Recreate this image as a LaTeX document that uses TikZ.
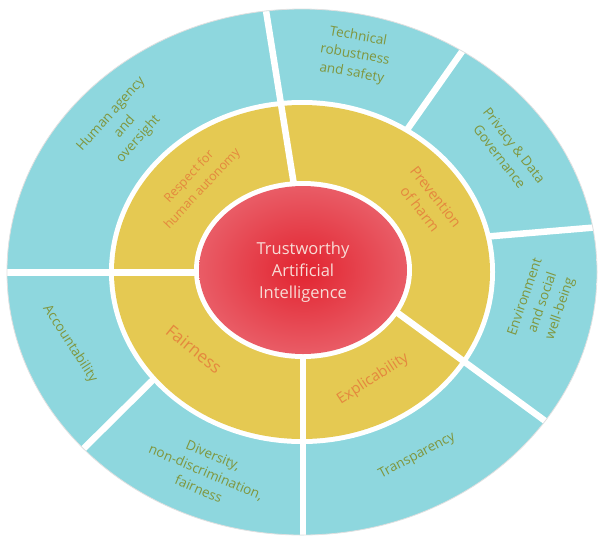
\documentclass[tikz,border=0pt]{standalone}
\usepackage{fontspec}
\setmainfont{Open Sans}
\definecolor{cyanring}{RGB}{142,215,222}
\definecolor{yellowring}{RGB}{229,201,82}
\definecolor{olivetext}{RGB}{128,150,62}
\definecolor{orangetext}{RGB}{228,136,62}
\definecolor{redin}{RGB}{226,36,48}
\definecolor{redout}{RGB}{233,92,102}
\definecolor{pinktext}{RGB}{248,220,214}
\begin{document}
\begin{tikzpicture}[x=1pt,y=-1pt,
  sep/.style={white, line width=6.5pt},
  gap/.style={fill=white},
  outerlabel/.style={text=olivetext, align=center, inner sep=0pt,
    font=\fontsize{13.5}{18.5}\selectfont},
  innerlabel/.style={text=orangetext, align=center, inner sep=0pt,
    font=\fontsize{14}{19}\selectfont}]
\useasboundingbox (0,0) rectangle (607,550);
\coordinate (c) at (302,272);
\coordinate (cr) at (303,270);
\fill[white] (0,0) rectangle (607,550);
\begin{scope}
  \clip (c) ellipse [x radius=295pt, y radius=263pt];
  \fill[cyanring] (c) ellipse [x radius=295pt, y radius=263pt];
  % separators of the outer ring only
  \draw[sep] (390,154) -- (480,26);
  \draw[sep] (470,238) -- (612,226);
  \draw[sep] (170,363) -- (60,472);
  % gap and middle ring
  \fill[gap] (c) ellipse [x radius=193pt, y radius=172pt];
  \fill[yellowring] (c) ellipse [x radius=188pt, y radius=167pt];
  % separators through both rings
  \draw[sep] (298,210) -- (263,-8);
  \draw[sep] (215,272.5) -- (-5,272.5);
  \draw[sep] (303,340) -- (303,600);
  \draw[sep] (380,300) -- (578,445);
  % gap and centre
  \fill[gap] (cr) ellipse [x radius=109pt, y radius=89pt];
  \shade[inner color=redin, outer color=redout] (cr) ellipse [x radius=104pt, y radius=84pt];
\end{scope}
\draw[white!88!black, line width=0.8pt] (c) ellipse [x radius=295pt, y radius=263pt];

% outer ring labels
\node[outerlabel, rotate=48] (human) at (125,127) {Human agency\\and\\oversight};
\node[outerlabel, rotate=-10] (tech) at (355,55) {Technical\\robustness\\and safety};
\node[outerlabel, rotate=-52] (privacy) at (507,151) {Privacy \& Data\\Governance};
\node[outerlabel, rotate=71] (env) at (543,303) {Environment\\and social\\well-being};
\node[outerlabel, rotate=28] (transp) at (417,456) {Transparency};
\node[outerlabel, rotate=-23] (div) at (206,472) {Diversity,\\non-discrimination,\\fairness};
\node[outerlabel, rotate=-57] (acc) at (70,344) {Accountability};

% middle ring labels
\node[innerlabel, rotate=47, font=\fontsize{12.5}{18}\selectfont] (respect) at (196,183) {Respect for\\human autonomy};
\node[innerlabel, rotate=-52, font=\fontsize{14.5}{20}\selectfont] (prevent) at (428,203) {Prevention\\of harm};
\node[innerlabel, rotate=-39, font=\fontsize{17}{20}\selectfont] (fair) at (194,349) {Fairness};
\node[innerlabel, rotate=33, font=\fontsize{15}{18}\selectfont] (expl) at (373,379) {Explicability};

% centre
\node[text=pinktext, align=center, inner sep=0pt, font=\fontsize{16.5}{22}\selectfont] (ai) at (303,272) {Trustworthy\\Artificial\\Intelligence};
\end{tikzpicture}
\end{document}
